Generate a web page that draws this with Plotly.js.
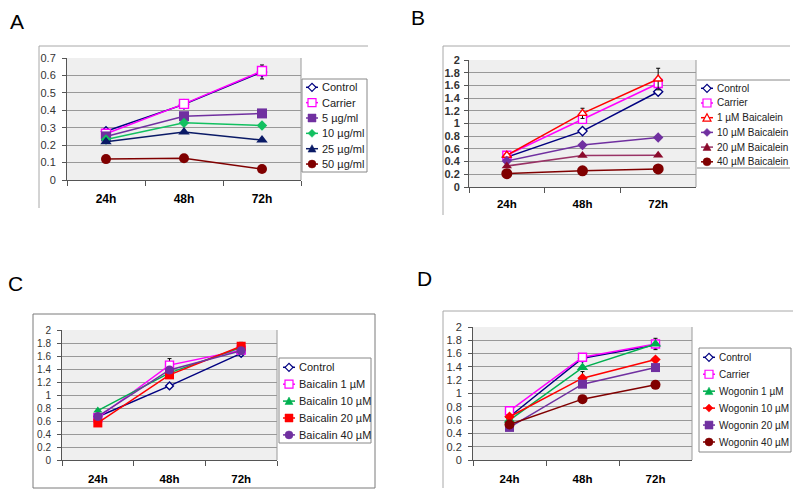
<!DOCTYPE html>
<html>
<head>
<meta charset="utf-8">
<script src="https://cdn.plot.ly/plotly-3.0.1.min.js"></script>
<style>html,body{margin:0;padding:0;background:#fff}#chart{width:800px;height:496px}</style>
</head>
<body>
<div id="chart"></div>
<script>
// ---------- DATA ----------
const categories = ['24h', '48h', '72h'];

// Panel A
const a_names = ['Control', 'Carrier', '5 µg/ml', '10 µg/ml', '25 µg/ml', '50 µg/ml'];
const a_control = [0.28, 0.434, 0.62];
const a_carrier = [0.265, 0.437, 0.625];
const a_5ug = [0.25, 0.366, 0.382];
const a_10ug = [0.232, 0.328, 0.313];
const a_25ug = [0.219, 0.276, 0.229];
const a_50ug = [0.12, 0.125, 0.063];
const a_control_err = [null, null, 0.04];

// Panel B
const b_names = ['Control', 'Carrier', '1 µM Baicalein', '10 µM Baicalein', '20 µM Baicalein', '40 µM Baicalein'];
const b_control = [0.47, 0.88, 1.5];
const b_carrier = [0.5, 1.065, 1.63];
const b_1uM = [0.5, 1.16, 1.7];
const b_10uM = [0.41, 0.66, 0.78];
const b_20uM = [0.33, 0.495, 0.5];
const b_40uM = [0.21, 0.255, 0.285];
const b_1uM_err = [null, 0.08, 0.17];

// Panel C
const c_names = ['Control', 'Baicalin 1 µM', 'Baicalin 10 µM', 'Baicalin 20 µM', 'Baicalin 40 µM'];
const c_control = [0.665, 1.14, 1.64];
const c_1uM = [0.65, 1.46, 1.69];
const c_10uM = [0.76, 1.34, 1.73];
const c_20uM = [0.57, 1.31, 1.75];
const c_40uM = [0.67, 1.385, 1.68];
const c_1uM_err = [null, 0.1, null];
const c_20uM_err = [null, null, 0.06];

// Panel D
const d_names = ['Control', 'Carrier', 'Wogonin 1 µM', 'Wogonin 10 µM', 'Wogonin 20 µM', 'Wogonin 40 µM'];
const d_control = [0.65, 1.53, 1.73];
const d_carrier = [0.74, 1.545, 1.745];
const d_1uM = [0.6, 1.39, 1.745];
const d_10uM = [0.65, 1.23, 1.51];
const d_20uM = [0.49, 1.14, 1.39];
const d_40uM = [0.535, 0.915, 1.13];
const d_carrier_err = [0.04, null, 0.085];
const d_10uM_err = [null, 0.1, null];

// ---------- STYLE / LAYOUT ----------
const W = 800, H = 496;
const X = px => px / W;
const Y = py => 1 - py / H;

const navy = '#000080', magenta = '#FF00FF', purple = '#7030A0', green = '#00B050',
      greenA = '#12C060', navy2 = '#0A1A66', darkred = '#800000', red = '#FF0000',
      maroon = '#8B0A2B', maroonLine = '#993366';

const panels = [
  {
    key: '', letter: 'A', letterPos: [17, 22], range: [0, 0.7], dtick: 0.1,
    plot: [67, 301, 58, 180], yBold: false, yFont: 11, xFont: 12, xStand: 8, yStand: 4,
    names: a_names,
    series: [a_control, a_carrier, a_5ug, a_10ug, a_25ug, a_50ug],
    errs: [a_control_err, null, null, null, null, null],
    styles: [
      {c: navy, s: 'diamond-open', z: 7},
      {c: magenta, s: 'square-open', z: 9},
      {c: purple, s: 'square', z: 10},
      {c: greenA, s: 'diamond', z: 8},
      {c: navy2, s: 'triangle-up', z: 10},
      {c: darkred, s: 'circle', z: 10}
    ],
    legend: {box: [302, 367, 79, 172], row0: 87.3, step: 15.35, font: 11, sides: 'all'},
    frame: {top: [39, 368, 46], left: [39, 46, 208]}
  },
  {
    key: '2', letter: 'B', letterPos: [418, 17], range: [0, 2], dtick: 0.2,
    plot: [469, 696, 60, 187], yBold: true, yFont: 11, xFont: 11.5, xStand: 6, yStand: 2,
    names: b_names,
    series: [b_control, b_carrier, b_1uM, b_10uM, b_20uM, b_40uM],
    errs: [null, null, b_1uM_err, null, null, null],
    styles: [
      {c: navy, s: 'diamond-open', z: 7},
      {c: magenta, s: 'square-open', z: 8},
      {c: red, s: 'triangle-up-open', z: 8},
      {c: purple, s: 'diamond', z: 8},
      {c: maroon, s: 'triangle-up', z: 9, l: maroonLine},
      {c: darkred, s: 'circle', z: 11}
    ],
    legend: {box: [697, 790, 80, 168], row0: 88.3, step: 14.7, font: 10, sides: 'tb'},
    frame: {top: [443, 790, 46], left: [443, 46, 215]}
  },
  {
    key: '3', letter: 'C', letterPos: [15, 283], range: [0, 2], dtick: 0.2,
    plot: [62, 277, 330, 460], yBold: false, yFont: 10, xFont: 11.5, xStand: 8, yStand: 4,
    names: c_names,
    series: [c_control, c_1uM, c_10uM, c_20uM, c_40uM],
    errs: [null, c_1uM_err, null, c_20uM_err, null],
    styles: [
      {c: navy, s: 'diamond-open', z: 6},
      {c: magenta, s: 'square-open', z: 8},
      {c: green, s: 'triangle-up', z: 8},
      {c: red, s: 'square', z: 9},
      {c: purple, s: 'circle', z: 9}
    ],
    legend: {box: [279, 371, 358, 443], row0: 367.3, step: 16.9, font: 11, sides: 'all'},
    frame: {rect: [33, 375, 314, 488]}
  },
  {
    key: '4', letter: 'D', letterPos: [424, 278], range: [0, 2], dtick: 0.2,
    plot: [473, 692, 327, 460], yBold: false, yFont: 11, xFont: 11.5, xStand: 8, yStand: 4,
    names: d_names,
    series: [d_control, d_carrier, d_1uM, d_10uM, d_20uM, d_40uM],
    errs: [null, d_carrier_err, null, d_10uM_err, null, null],
    styles: [
      {c: navy, s: 'diamond-open', z: 6},
      {c: magenta, s: 'square-open', z: 8},
      {c: green, s: 'triangle-up', z: 10},
      {c: red, s: 'diamond', z: 8},
      {c: purple, s: 'square', z: 9},
      {c: darkred, s: 'circle', z: 10}
    ],
    legend: {box: [699, 791, 348, 452], row0: 357.3, step: 16.94, font: 10, sides: 'all'},
    frame: {top: [443, 793, 311], left: [443, 311, 488]}
  }
];

const traces = [];
const shapes = [];
const annotations = [];
const layout = {
  width: W, height: H,
  margin: {l: 0, r: 0, t: 0, b: 0},
  paper_bgcolor: '#ffffff',
  showlegend: false,
  font: {family: 'Arial, Liberation Sans, sans-serif', color: '#222'}
};

function hline(x0, x1, y, color, w) {
  shapes.push({type: 'line', xref: 'paper', yref: 'paper', x0: X(x0), x1: X(x1), y0: Y(y), y1: Y(y), line: {color: color, width: w}});
}
function vline(x, y0, y1, color, w) {
  shapes.push({type: 'line', xref: 'paper', yref: 'paper', x0: X(x), x1: X(x), y0: Y(y0), y1: Y(y1), line: {color: color, width: w}});
}
function legendMarker(sym, cx, cy, size, color) {
  const open = sym.endsWith('-open');
  const base = sym.replace('-open', '');
  const fill = open ? '#ffffff' : color;
  const r = size / 2;
  const line = {color: color, width: open ? 1.2 : 0.5};
  if (base === 'circle') {
    shapes.push({type: 'circle', xref: 'paper', yref: 'paper', x0: X(cx - r), x1: X(cx + r), y0: Y(cy + r), y1: Y(cy - r), fillcolor: fill, line: line});
    return;
  }
  let pts;
  if (base === 'diamond') pts = [[cx - r, cy], [cx, cy - r], [cx + r, cy], [cx, cy + r]];
  else if (base === 'square') pts = [[cx - r, cy - r], [cx + r, cy - r], [cx + r, cy + r], [cx - r, cy + r]];
  else pts = [[cx - r, cy + r * 0.85], [cx, cy - r], [cx + r, cy + r * 0.85]];
  const path = 'M' + pts.map(p => X(p[0]) + ',' + Y(p[1])).join(' L') + ' Z';
  shapes.push({type: 'path', xref: 'paper', yref: 'paper', path: path, fillcolor: fill, line: line});
}

panels.forEach(p => {
  const xa = 'xaxis' + p.key, ya = 'yaxis' + p.key;
  const xr = 'x' + p.key, yr = 'y' + p.key;
  layout[xa] = {
    domain: [X(p.plot[0]), X(p.plot[1])], anchor: yr,
    type: 'category', range: [-0.5, 2.5], tickson: 'boundaries',
    ticks: 'outside', ticklen: 5, tickcolor: '#555', tickwidth: 1,
    showline: true, linecolor: '#555', linewidth: 1, mirror: false, showgrid: false,
    tickfont: {family: 'Arial, Liberation Sans, sans-serif', size: p.xFont, color: '#000', weight: 700},
    ticklabelstandoff: p.xStand, fixedrange: true
  };
  layout[ya] = {
    domain: [Y(p.plot[3]), Y(p.plot[2])], anchor: xr,
    range: p.range, dtick: p.dtick, tick0: 0,
    ticks: 'outside', ticklen: 4, tickcolor: '#555', tickwidth: 1,
    showline: true, linecolor: '#555', linewidth: 1, mirror: false,
    showgrid: true, gridcolor: '#999999', gridwidth: 1, zeroline: false,
    tickfont: {family: 'Arial, Liberation Sans, sans-serif', size: p.yFont, color: '#333', weight: p.yBold ? 700 : 400},
    ticklabelstandoff: p.yStand, fixedrange: true
  };
  // plot area background + right border
  shapes.push({type: 'rect', xref: 'paper', yref: 'paper', layer: 'below',
    x0: X(p.plot[0]), x1: X(p.plot[1]), y0: Y(p.plot[3]), y1: Y(p.plot[2]),
    fillcolor: '#efefef', line: {width: 0}});
  vline(p.plot[1], p.plot[2], p.plot[3], '#9a9a9a', 1);

  // data traces
  p.series.forEach((vals, i) => {
    const st = p.styles[i];
    const open = st.s.endsWith('-open');
    const t = {
      type: 'scatter', mode: 'lines+markers', name: p.names[i],
      x: categories, y: vals, xaxis: xr, yaxis: yr,
      line: {color: st.l || st.c, width: 1.5},
      marker: {
        symbol: st.s.replace('-open', ''), size: st.z,
        color: open ? '#ffffff' : st.c,
        line: {color: st.c, width: open ? 1.4 : 0}
      },
      cliponaxis: false, hoverinfo: 'skip'
    };
    if (p.errs[i]) {
      t.error_y = {type: 'data', array: p.errs[i], symmetric: true, visible: true, color: '#000', thickness: 1, width: 2};
    }
    traces.push(t);
  });

  // legend
  const L = p.legend;
  if (L.sides === 'all') {
    shapes.push({type: 'rect', xref: 'paper', yref: 'paper',
      x0: X(L.box[0]), x1: X(L.box[1]), y0: Y(L.box[3]), y1: Y(L.box[2]),
      fillcolor: '#ffffff', line: {color: '#888', width: 1}});
  } else {
    hline(L.box[0], L.box[1], L.box[2], '#888', 1);
    hline(L.box[0], L.box[1], L.box[3], '#888', 1);
  }
  p.names.forEach((nm, i) => {
    const st = p.styles[i];
    const cy = L.row0 + i * L.step;
    const bx = L.box[0];
    hline(bx + 4, bx + 16, cy, st.l || st.c, 1.5);
    legendMarker(st.s, bx + 10, cy, 8, st.c);
    annotations.push({xref: 'paper', yref: 'paper', x: X(bx + 18), y: Y(cy), xanchor: 'left', yanchor: 'middle',
      text: nm, showarrow: false, font: {family: 'Arial, Liberation Sans, sans-serif', size: L.font, color: '#222'}});
  });

  // outer chart frame
  const F = p.frame;
  if (F.rect) {
    shapes.push({type: 'rect', xref: 'paper', yref: 'paper', layer: 'below',
      x0: X(F.rect[0]), x1: X(F.rect[1]), y0: Y(F.rect[3]), y1: Y(F.rect[2]),
      fillcolor: 'rgba(0,0,0,0)', line: {color: '#7a7a7a', width: 1}});
  } else {
    hline(F.top[0], F.top[1], F.top[2], '#a8a8a8', 1);
    vline(F.left[0], F.left[1], F.left[2], '#a8a8a8', 1);
  }

  // panel letter
  annotations.push({xref: 'paper', yref: 'paper', x: X(p.letterPos[0]), y: Y(p.letterPos[1]),
    xanchor: 'center', yanchor: 'middle', text: p.letter, showarrow: false,
    font: {family: 'Arial, Liberation Sans, sans-serif', size: 21, color: '#000'}});
});

layout.shapes = shapes;
layout.annotations = annotations;

Plotly.newPlot('chart', traces, layout, {staticPlot: true, displayModeBar: false});
</script>
</body>
</html>
